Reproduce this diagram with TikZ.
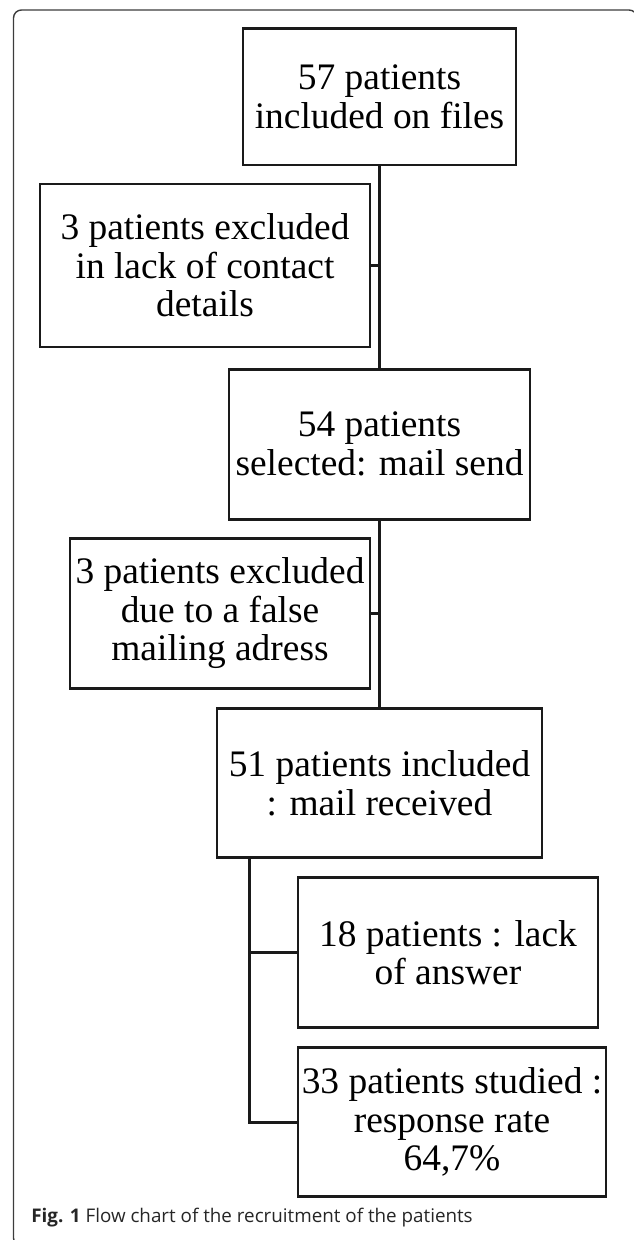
\documentclass[tikz,border=0pt]{standalone}
\usepackage{fontspec}
\setmainfont{Liberation Serif}
\newfontfamily\captionfont{Open Sans}
\usetikzlibrary{positioning}
\definecolor{frameGray}{RGB}{60,60,60}
\definecolor{boxBlack}{RGB}{26,26,26}

\begin{document}
\begin{tikzpicture}[line width=1.6pt, every node/.style={font=\fontsize{21.3}{22}\selectfont},
  flowbox/.style={draw=boxBlack, align=center, inner sep=0pt}]
  \useasboundingbox (0,0) rectangle (12.66,-24.8);
  % outer frame of the figure
  \draw[frameGray, line width=0.8pt, rounded corners=0.16cm] (0.27,-0.2) rectangle (12.74,-24.92);
  % main column
  \node[flowbox, minimum width=5.46cm, minimum height=2.73cm] (n57) at (7.59,-1.934) {57 patients\\included on files};
  \node[flowbox, minimum width=6.60cm, minimum height=3.26cm] (n3a) at (4.10,-5.31) {3 patients excluded\\in lack of contact\\details};
  \node[flowbox, minimum width=6.02cm, minimum height=3.00cm] (n54) at (7.59,-8.884) {54 patients\\selected: mail send};
  \node[flowbox, minimum width=6.00cm, minimum height=3.00cm] (n3b) at (4.40,-12.266) {3 patients excluded\\due to a false\\mailing adress};
  \node[flowbox, minimum width=6.50cm, minimum height=2.99cm] (n51) at (7.59,-15.66) {51 patients included\\: mail received};
  % split into the two outcomes
  \node[flowbox, minimum width=6.00cm, minimum height=3.00cm] (n18) at (8.96,-19.054) {18 patients : lack\\of answer};
  \node[flowbox, minimum width=6.16cm, minimum height=2.98cm] (n33) at (9.04,-22.444) {33 patients studied :\\response rate\\64,7\%};
  \coordinate (split) at (4.99,-17.154);
  \draw[boxBlack] (n57) -- (n54);
  \draw[boxBlack] (n54) -- (n51);
  \draw[boxBlack] (n3a.east) -- (n3a.east -| n57);
  \draw[boxBlack] (n3b.east) -- (n3b.east -| n54);
  \draw[boxBlack] (split) |- (n18.west);
  \draw[boxBlack] (split) |- (n33.west);
  % caption
  \node[anchor=base west, inner sep=0pt, text=black!85, font=\captionfont\fontsize{10.7}{13}\selectfont] (caption) at (0.60,-24.44) {\textbf{Fig. 1} Flow chart of the recruitment of the patients};
\end{tikzpicture}
\end{document}
